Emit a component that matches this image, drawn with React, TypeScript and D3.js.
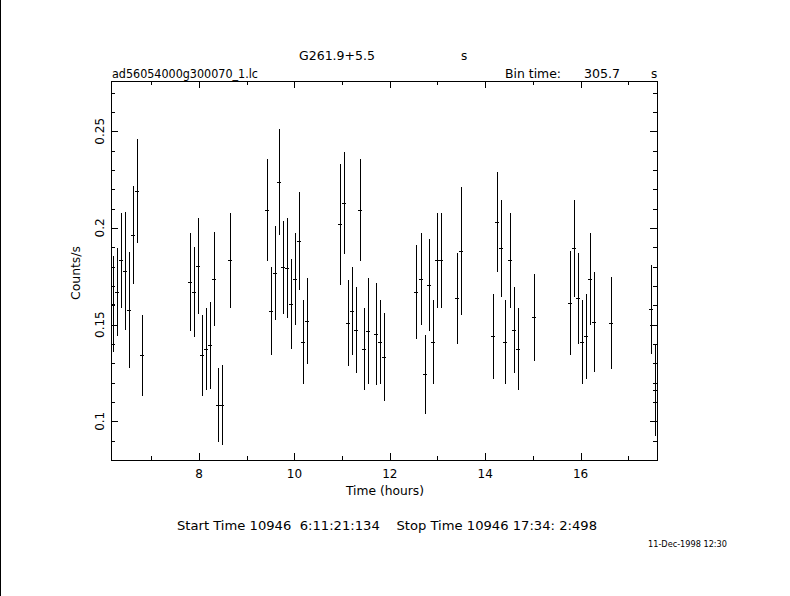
import React from "react";
import * as d3 from "d3";

// Light curve bins: time (hours), count rate (counts/s), 1-sigma error
const times = [
  6.203, 6.287, 6.371, 6.455, 6.539, 6.623, 6.706, 6.811,
  7.818, 7.901, 7.985, 8.069, 8.153, 8.237, 8.321, 8.405, 8.488, 8.656,
  9.432, 9.516, 9.6, 9.683, 9.767, 9.851, 9.935, 10.019, 10.103, 10.187, 10.27,
  10.962, 11.046, 11.13, 11.214, 11.298, 11.382, 11.465, 11.549, 11.717, 11.801, 11.885,
  12.556, 12.66, 12.744, 12.828, 12.912, 12.996, 13.08, 13.415, 13.499,
  14.17, 14.254, 14.338, 14.421, 14.526, 14.61, 14.694, 15.029,
  15.784, 15.862, 15.946, 16.029, 16.113, 16.197, 16.281, 16.644,
  17.482, 17.566,
];
const rates = [
  0.1605, 0.1669, 0.1832, 0.1776, 0.1576, 0.1963, 0.2189, 0.1341,
  0.172, 0.1669, 0.1803, 0.1341, 0.1374, 0.1393, 0.1736, 0.1084, 0.1084, 0.1832,
  0.2093, 0.157, 0.1767, 0.2237, 0.1796, 0.1791, 0.1605, 0.1736, 0.1932, 0.141, 0.1519,
  0.2019, 0.2129, 0.1508, 0.157, 0.1472, 0.2093, 0.1374, 0.1467, 0.1452, 0.141, 0.1333,
  0.1669, 0.1736, 0.1243, 0.1705, 0.141, 0.1832, 0.1832, 0.1636, 0.1881,
  0.144, 0.2029, 0.1895, 0.141, 0.1832, 0.1472, 0.1374, 0.1538,
  0.1612, 0.1895, 0.1636, 0.141, 0.144, 0.1736, 0.1512, 0.1508,
  0.1579, 0.116,
];
const errors = [
  0.0248, 0.0226, 0.0245, 0.0304, 0.0298, 0.0255, 0.0269, 0.0209,
  0.0252, 0.0234, 0.0246, 0.0209, 0.0214, 0.0224, 0.0242, 0.019, 0.0206, 0.0245,
  0.0263, 0.0227, 0.0243, 0.0273, 0.0242, 0.0258, 0.0232, 0.024, 0.0252, 0.0216, 0.0224,
  0.0312, 0.0265, 0.0221, 0.0227, 0.0221, 0.0263, 0.0214, 0.0272, 0.0265, 0.0216, 0.0229,
  0.0243, 0.024, 0.0203, 0.0237, 0.0216, 0.0245, 0.0245, 0.0234, 0.0329,
  0.0219, 0.0258, 0.0252, 0.0216, 0.0245, 0.0221, 0.0214, 0.0225,
  0.0271, 0.0252, 0.0234, 0.0216, 0.0219, 0.024, 0.0258, 0.0237,
  0.0231, 0.0234,
];
const halfBin = 0.0425; // hours (bin time 305.7 s)

const xMajor = [8, 10, 12, 14, 16];
const xMinor = [7, 9, 11, 13, 15, 17];
const yMajor = [0.1, 0.15, 0.2, 0.25];
const yMajorLabels = ["0.1", "0.15", "0.2", "0.25"];

const W = 790;
const H = 596;
const L = 111, R = 657, T = 81, B = 460;

export default function App() {
  const x = d3.scaleLinear().domain([6.155, 17.602]).range([L, R]);
  const y = d3.scaleLinear().domain([0.08, 0.276]).range([B, T]);
  const yMinor = d3.range(0.08, 0.2761, 0.01).map((v) => +v.toFixed(3)).filter((v) => !yMajor.some((m) => Math.abs(m - v) < 1e-6));

  const font = "'DejaVu Sans', sans-serif";
  const ticks: JSX.Element[] = [];
  xMajor.forEach((v, i) => {
    const px = Math.round(x(v)) + 0.5;
    ticks.push(<line key={"xmb" + i} x1={px} x2={px} y1={B} y2={B - 7} />);
    ticks.push(<line key={"xmt" + i} x1={px} x2={px} y1={T} y2={T + 7} />);
  });
  xMinor.forEach((v, i) => {
    const px = Math.round(x(v)) + 0.5;
    ticks.push(<line key={"xnb" + i} x1={px} x2={px} y1={B} y2={B - 4} />);
    ticks.push(<line key={"xnt" + i} x1={px} x2={px} y1={T} y2={T + 4} />);
  });
  yMajor.forEach((v, i) => {
    const py = Math.round(y(v)) + 0.5;
    ticks.push(<line key={"yml" + i} x1={L} x2={L + 7} y1={py} y2={py} />);
    ticks.push(<line key={"ymr" + i} x1={R} x2={R - 7} y1={py} y2={py} />);
  });
  yMinor.forEach((v, i) => {
    const py = Math.round(y(v)) + 0.5;
    ticks.push(<line key={"ynl" + i} x1={L} x2={L + 4} y1={py} y2={py} />);
    ticks.push(<line key={"ynr" + i} x1={R} x2={R - 4} y1={py} y2={py} />);
  });

  const marks = times.map((t, i) => {
    const cx = Math.round(x(t)) + 0.5;
    const cy = Math.round(y(rates[i])) + 0.5;
    const top = Math.max(T, y(rates[i] + errors[i]));
    const bot = Math.min(B, y(rates[i] - errors[i]));
    return (
      <g key={i}>
        <line x1={cx} x2={cx} y1={top} y2={bot} />
        <line x1={x(t - halfBin)} x2={x(t + halfBin)} y1={cy} y2={cy} />
      </g>
    );
  });

  return (
    <svg
      width={W}
      height={H}
      style={{ position: "absolute", left: 0, top: 0, background: "#fff" }}
      fontFamily={font}
    >
      <rect x={0} y={0} width={W} height={H} fill="#fff" />
      <line x1={0.5} x2={0.5} y1={0} y2={H} stroke="#000" />
      <g stroke="#000" strokeWidth={1} shapeRendering="crispEdges" fill="none">
        <rect x={L + 0.5} y={T + 0.5} width={R - L} height={B - T} />
        {ticks}
        {marks}
      </g>
      <g fill="#000" fontSize={12}>
        <text x={299} y={60} textLength={76} lengthAdjust="spacingAndGlyphs">G261.9+5.5</text>
        <text x={461} y={60}>s</text>
        <text x={112} y={78} textLength={146} lengthAdjust="spacingAndGlyphs">ad56054000g300070_1.lc</text>
        <text x={505} y={78} textLength={56} lengthAdjust="spacingAndGlyphs">Bin time:</text>
        <text x={584} y={78} textLength={36} lengthAdjust="spacingAndGlyphs">305.7</text>
        <text x={651} y={78}>s</text>
        {xMajor.map((v, i) => (
          <text key={"xl" + i} x={x(v)} y={478} textAnchor="middle">{String(v)}</text>
        ))}
        {yMajor.map((v, i) => (
          <text key={"yl" + i} transform={`translate(104,${y(v)}) rotate(-90)`} textAnchor="middle">
            {yMajorLabels[i]}
          </text>
        ))}
        <text transform={`translate(80,273) rotate(-90)`} textAnchor="middle" textLength={54} lengthAdjust="spacingAndGlyphs">Counts/s</text>
        <text x={346} y={495} textLength={78} lengthAdjust="spacingAndGlyphs">Time (hours)</text>
        <text x={177} y={530} textLength={420} lengthAdjust="spacingAndGlyphs" style={{ whiteSpace: "pre" }}>
          {"Start Time 10946  6:11:21:134    Stop Time 10946 17:34: 2:498"}
        </text>
        <text x={648} y={547} fontSize={8} textLength={79} lengthAdjust="spacingAndGlyphs">11-Dec-1998 12:30</text>
      </g>
    </svg>
  );
}
